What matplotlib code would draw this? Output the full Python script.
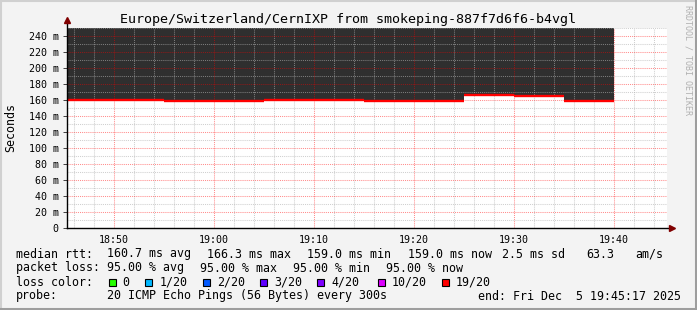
import matplotlib
matplotlib.use("Agg")
import matplotlib.pyplot as plt
from matplotlib.ticker import MultipleLocator, FuncFormatter
from matplotlib.patches import Rectangle
from matplotlib.lines import Line2D

# data: 5 minute steps, start time (minutes after 18:00) and median rtt in ms
step_start = [45, 50, 55, 60, 65, 70, 75, 80, 85, 90, 95]
step_end = 100
median_ms = [159.8, 160.6, 159.2, 159.2, 160.6, 160.6, 159.2, 159.2, 166.3, 164.6, 159.0]
x_start = 45 + 17 / 60.0   # 18:45:17
x_end = 105 + 17 / 60.0    # 19:45:17
y_max = 250

title = "Europe/Switzerland/CernIXP from smokeping-887f7d6f6-b4vgl"
loss_labels = ["0", "1/20", "2/20", "3/20", "4/20", "10/20", "19/20"]
loss_colors = ["#26ff00", "#00b8ff", "#0059ff", "#5e00ff", "#7e00ff", "#dd00ff", "#ff0000"]

W, H = 697, 310
MONO = "DejaVu Sans Mono"


def fx(px):
    return px / W


def fy(py):
    return 1 - py / H


fig = plt.figure(figsize=(W / 100, H / 100), dpi=100, facecolor="#f3f3f3")

# plot area: x 67..667, y 28..228 (pixels)
ax = fig.add_axes([fx(67), fy(228), 600 / W, 200 / H])
ax.set_facecolor("white")
ax.set_xlim(x_start, x_end)
ax.set_ylim(0, y_max)
for s in ax.spines.values():
    s.set_visible(False)

# smoke area above the median and the median line
ends = step_start[1:] + [step_end]
for x0, x1, m in zip(step_start, ends, median_ms):
    ax.fill_between([x0, x1], [m, m], [y_max, y_max], color="#2f2f2f", lw=0, zorder=1)
ax.hlines(median_ms, step_start, ends, colors="#ff0000", lw=1.7, zorder=4)

# grid
ax.xaxis.set_major_locator(MultipleLocator(10))
ax.xaxis.set_minor_locator(MultipleLocator(2))
ax.yaxis.set_major_locator(MultipleLocator(20))
ax.yaxis.set_minor_locator(MultipleLocator(10))
ax.set_axisbelow(False)
ax.grid(which="minor", color="#b0b0b0", alpha=0.6, lw=0.75, ls=(0, (1, 1)))
ax.grid(which="major", color="#ff0000", alpha=0.45, lw=0.75, ls=(0, (1, 1)))

ax.xaxis.set_major_formatter(FuncFormatter(lambda v, p: "%02d:%02d" % (18 + int(v) // 60, int(v) % 60)))
ax.yaxis.set_major_formatter(FuncFormatter(lambda v, p: "0" if v == 0 else "%d m" % v))
ax.tick_params(axis="x", which="both", length=0, pad=5, labelsize=7.2)
ax.tick_params(axis="y", which="major", length=3, width=0.7, color="#404040", pad=3, labelsize=7.2)
ax.tick_params(axis="y", which="minor", length=0)
for lab in ax.get_xticklabels() + ax.get_yticklabels():
    lab.set_fontfamily(MONO)

# axis lines with arrows
ax.plot([0, 1.006], [0, 0], color="black", lw=1, transform=ax.transAxes, clip_on=False, zorder=5)
ax.plot([0, 0], [0, 1.03], color="black", lw=1, transform=ax.transAxes, clip_on=False, zorder=5)
ax.plot([1.008], [0], marker=">", ms=4, color="#800000", transform=ax.transAxes, clip_on=False, zorder=6)
ax.plot([0], [1.04], marker="^", ms=4, color="#800000", transform=ax.transAxes, clip_on=False, zorder=6)

# title and labels
fig.text(fx(348.5), fy(19), title, family=MONO, fontsize=9.6, ha="center", va="center")
fig.text(fx(11), fy(127), "Seconds", family=MONO, fontsize=8.4, rotation=90, ha="center", va="center")
fig.text(fx(688), fy(60), "RRDTOOL / TOBI OETIKER", family=MONO, fontsize=6, rotation=270,
         ha="center", va="center", color="#b0b0b0")

# legend
fs = 8.4
line1 = [(16, "median rtt:"), (107.3, "160.7 ms avg"), (207.3, "166.3 ms max"), (307.3, "159.0 ms min"),
         (407.7, "159.0 ms now"), (501.7, "2.5 ms sd"), (586, "63.3"), (635, "am/s")]
line2 = [(16, "packet loss:"), (107.3, "95.00 % avg"), (200, "95.00 % max"), (293, "95.00 % min"),
         (386, "95.00 % now")]
line4 = [(16, "probe:"), (107.3, "20 ICMP Echo Pings (56 Bytes) every 300s"),
         (478.3, "end: Fri Dec  5 19:45:17 2025")]
for yy, items in [(254, line1), (268, line2), (296, line4)]:
    for xx, t in items:
        fig.text(fx(xx), fy(yy), t, family=MONO, fontsize=fs, ha="left", va="center")

fig.text(fx(16), fy(282), "loss color:", family=MONO, fontsize=fs, ha="left", va="center")
box_x = [108.7, 145.3, 203, 260, 317, 377.7, 442]
for bx, lab, col in zip(box_x, loss_labels, loss_colors):
    fig.patches.append(Rectangle((fx(bx), fy(286)), 7 / W, 7 / H, transform=fig.transFigure,
                                 facecolor=col, edgecolor="black", lw=0.8))
    fig.text(fx(bx + 14), fy(282), lab, family=MONO, fontsize=fs, ha="left", va="center")

# 3d frame
fig.add_artist(Line2D([0, 1], [1 - 1 / H, 1 - 1 / H], color="#d0d0d0", lw=1.5, transform=fig.transFigure))
fig.add_artist(Line2D([1 / W, 1 / W], [0, 1], color="#d0d0d0", lw=1.5, transform=fig.transFigure))
fig.add_artist(Line2D([0, 1], [1.5 / H, 1.5 / H], color="#9e9e9e", lw=2.2, transform=fig.transFigure))
fig.add_artist(Line2D([1 - 1.5 / W, 1 - 1.5 / W], [0, 1], color="#9e9e9e", lw=2.2, transform=fig.transFigure))

fig.savefig("out.png", dpi=100, facecolor=fig.get_facecolor())
